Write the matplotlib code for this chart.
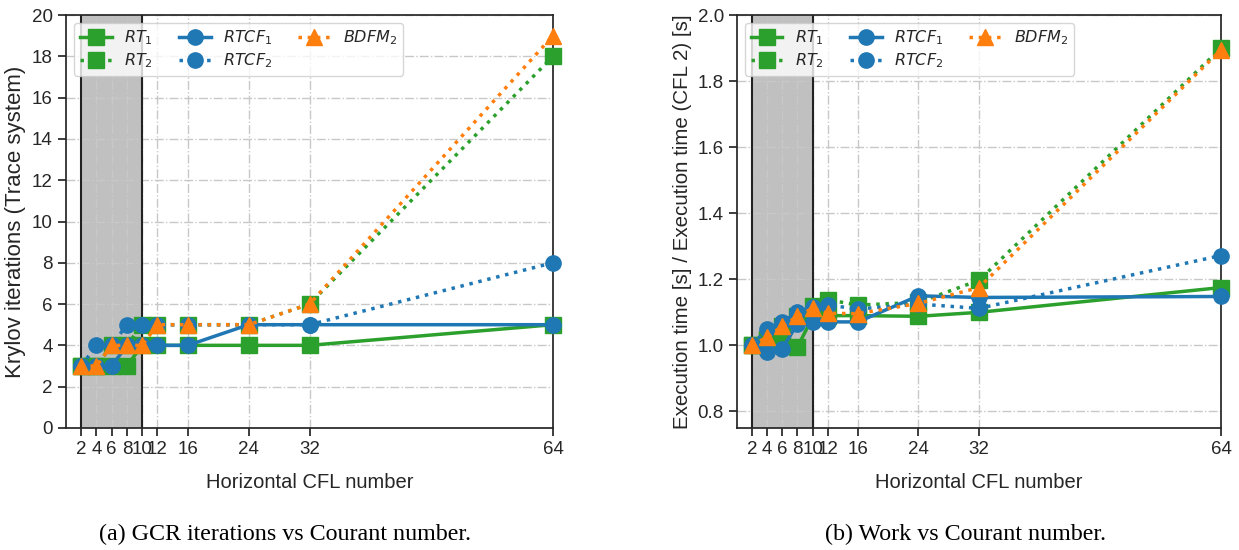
import matplotlib
matplotlib.use('Agg')
import matplotlib.pyplot as plt

# horizontal CFL numbers (shared x axis)
cfl = [2, 4, 6, 8, 10, 12, 16, 24, 32, 64]

# (a) Krylov iterations of the trace system
iters_rt1 = [3, 3, 3, 3, 4, 4, 4, 4, 4, 5]
iters_rt2 = [3, 3, 4, 4, 5, 5, 5, 5, 6, 18]
iters_rtcf1 = [3, 3, 3, 4, 4, 4, 4, 5, 5, 5]
iters_rtcf2 = [3, 4, 4, 5, 5, 5, 5, 5, 5, 8]
iters_bdfm2 = [3, 3, 4, 4, 4, 5, 5, 5, 6, 19]

# (b) execution time relative to CFL 2
time_rt1 = [1.0, 1.015, 1.03, 0.995, 1.085, 1.09, 1.09, 1.088, 1.10, 1.175]
time_rt2 = [1.0, 1.02, 1.06, 1.09, 1.12, 1.138, 1.122, 1.13, 1.197, 1.90]
time_rtcf1 = [1.0, 0.98, 0.99, 1.066, 1.071, 1.071, 1.071, 1.15, 1.145, 1.148]
time_rtcf2 = [1.0, 1.051, 1.071, 1.10, 1.115, 1.122, 1.11, 1.125, 1.112, 1.272]
time_bdfm2 = [1.0, 1.025, 1.058, 1.088, 1.112, 1.097, 1.096, 1.127, 1.175, 1.895]

SERIES = [
    (r'$RT_1$', '#2ca02c', '-', 's'),
    (r'$RT_2$', '#2ca02c', ':', 's'),
    (r'$RTCF_1$', '#1f77b4', '-', 'o'),
    (r'$RTCF_2$', '#1f77b4', ':', 'o'),
    (r'$BDFM_2$', '#ff7f0e', ':', '^'),
]

plt.rcParams.update({
    'font.family': ['Liberation Sans', 'DejaVu Sans'],
    'mathtext.fontset': 'dejavusans',
    'axes.edgecolor': '#262626',
    'axes.linewidth': 1.25,
    'xtick.color': '#262626',
    'ytick.color': '#262626',
    'xtick.major.size': 6,
    'ytick.major.size': 6,
    'xtick.major.width': 1.25,
    'ytick.major.width': 1.25,
    'text.color': '#262626',
    'axes.labelcolor': '#262626',
})


def panel(ax, ys, ylim, yticks, ylabel, labsize):
    ax.axvspan(2, 10, facecolor='#c0c0c0', edgecolor='none', zorder=0.2)
    ax.axvline(2, color='#222222', lw=1.5, zorder=0.7)
    ax.axvline(10, color='#222222', lw=1.5, zorder=0.7)
    for (lab, c, ls, m), y in zip(SERIES, ys):
        ax.plot(cfl, y, color=c, ls=ls, marker=m, lw=2.5, ms=11,
                label=lab, clip_on=False, zorder=3)
    ax.set_xlim(0, 64)
    ax.set_ylim(*ylim)
    ax.set_xticks(cfl)
    ax.set_yticks(yticks)
    ax.grid(True, ls='-.', color='#c8c8c8', lw=1.0, zorder=0.5)
    ax.set_axisbelow(True)
    ax.tick_params(labelsize=13.5)
    ax.set_xlabel('Horizontal CFL number', fontsize=14.5, labelpad=11)
    ax.set_ylabel(ylabel, fontsize=labsize)
    ax.legend(loc='upper left', ncol=3, fontsize=11.5, handlelength=2.0,
              columnspacing=1.6, labelspacing=0.25, borderpad=0.35,
              fancybox=True, framealpha=0.8)


fig = plt.figure(figsize=(12.39, 5.5), dpi=100)
ax1 = fig.add_axes([0.0533, 0.222, 0.3930, 0.7505])
ax2 = fig.add_axes([0.5948, 0.222, 0.3907, 0.7505])

panel(ax1, [iters_rt1, iters_rt2, iters_rtcf1, iters_rtcf2, iters_bdfm2],
      (0, 20), range(0, 21, 2), 'Krylov iterations (Trace system)', 16)
panel(ax2, [time_rt1, time_rt2, time_rtcf1, time_rtcf2, time_bdfm2],
      (0.75, 2.0), [0.8, 1.0, 1.2, 1.4, 1.6, 1.8, 2.0],
      'Execution time [s] / Execution time (CFL 2) [s]', 14.8)
ax2.set_yticklabels(['0.8', '1.0', '1.2', '1.4', '1.6', '1.8', '2.0'])

fig.text(0.230, 0.018, '(a) GCR iterations vs Courant number.',
         family='Liberation Serif', fontsize=17.3, ha='center', color='black')
fig.text(0.779, 0.018, '(b) Work vs Courant number.',
         family='Liberation Serif', fontsize=17.3, ha='center', color='black')

fig.savefig('out.png', dpi=100)
